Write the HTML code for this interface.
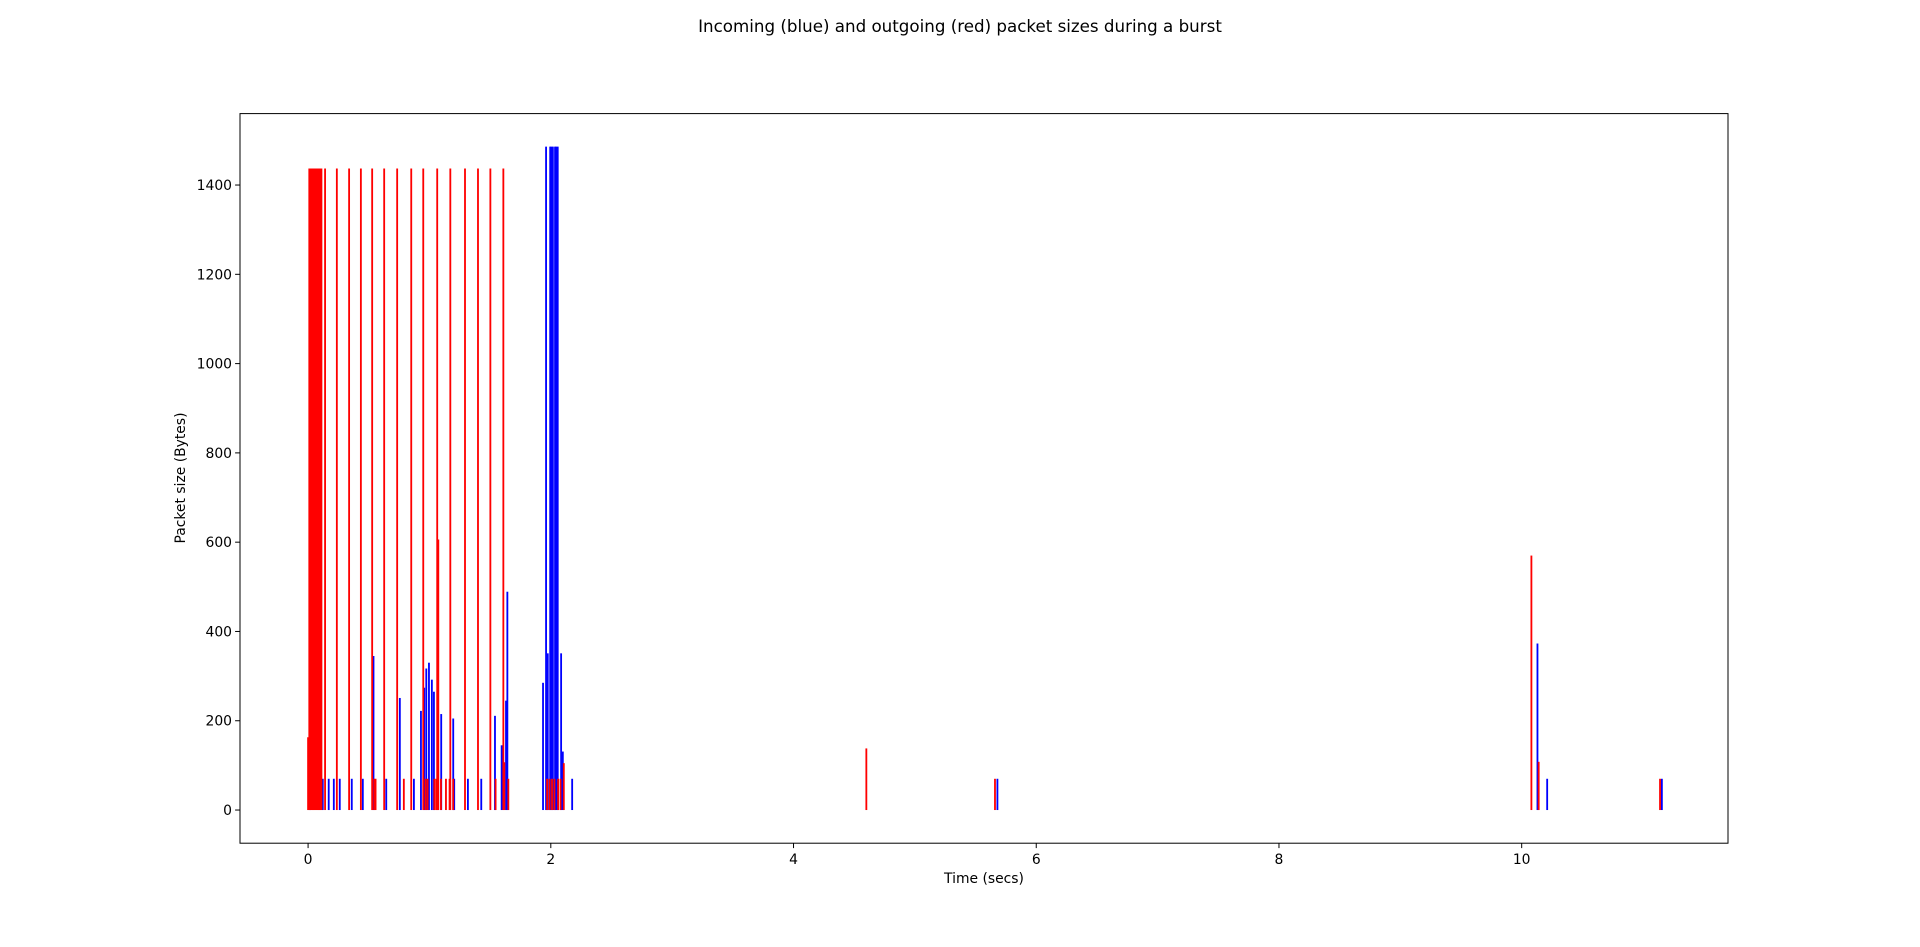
<!DOCTYPE html>
<html><head><meta charset="utf-8"><style>
html,body{margin:0;padding:0;background:#fff;}
svg{display:block;font-family:"DejaVu Sans","Liberation Sans",sans-serif;}
</style></head><body>
<svg id="chart" width="1920" height="947" viewBox="0 0 1920 947" xmlns="http://www.w3.org/2000/svg">
<rect width="1920" height="947" fill="#fff"/>
<text x="960" y="32" text-anchor="middle" font-size="16.7">Incoming (blue) and outgoing (red) packet sizes during a burst</text>
<g id="bars"></g>
<rect x="240" y="113.6" width="1488" height="729.6" fill="none" stroke="#000" stroke-width="1"/>
<g id="xticks"></g>
<g id="yticks"></g>
<text x="984" y="883" text-anchor="middle" font-size="13.9">Time (secs)</text>
<text x="185" y="478" text-anchor="middle" font-size="13.9" transform="rotate(-90 185 478)">Packet size (Bytes)</text>
</svg>
<script>
const outTimes = [0.0,0.01,0.02,0.03,0.04,0.05,0.06,0.07,0.08,0.09,0.10,0.11,0.14,0.237,0.338,0.435,0.528,0.627,0.734,0.85,0.949,1.064,1.172,1.293,1.40,1.502,1.609,
 0.545,0.556,0.789,0.968,0.985,1.040,1.056,1.073,1.095,1.136,1.166,1.196,1.545,1.617,1.650,
 1.97,1.99,2.01,2.03,2.06,2.08,2.107,4.60,5.66,10.08,10.14,11.14];
const outSizes = [163,1437,1437,1437,1437,1437,1437,1437,1437,1437,1437,1437,1437,1437,1437,1437,1437,1437,1437,1437,1437,1437,1437,1437,1437,1437,1437,
 70,70,70,70,70,70,70,606,70,70,70,70,70,107,70,
 70,70,70,70,70,70,105,138,70,570,108,70];
const inTimes = [0.0165,0.121,0.170,0.212,0.261,0.360,0.451,0.539,0.644,0.756,0.872,0.930,0.957,0.974,0.996,1.020,1.037,1.097,1.196,1.204,1.317,1.427,1.540,1.595,1.631,1.642,
 1.936,1.961,1.975,1.995,2.005,2.017,2.035,2.045,2.057,2.085,2.099,2.176,5.68,10.13,10.21,11.155];
const inSizes = [110,70,70,70,70,70,70,345,70,251,70,222,274,317,330,292,265,215,205,70,70,70,211,145,245,489,
 285,1486,351,1486,1486,1486,1486,1486,1486,351,131,70,70,373,70,70];
const xTicks = [0,2,4,6,8,10];
const yTicks = [0,200,400,600,800,1000,1200,1400];
const barWidth = 0.015;

const X0=240, X1=1728, Y0=843.2, Y1=113.6;
const xMin=-0.561, xMax=11.70, yMin=-74.3, yMax=1560;
const xs = v => X0 + (v - xMin) / (xMax - xMin) * (X1 - X0);
const ys = v => Y0 - (v - yMin) / (yMax - yMin) * (Y0 - Y1);
const NS = "http://www.w3.org/2000/svg";
const bars = document.getElementById('bars');
function drawBars(times, sizes, color, name){
  times.forEach((t,i)=>{
    const r = document.createElementNS(NS,'rect');
    const xl = xs(t - barWidth/2), xr = xs(t + barWidth/2);
    r.setAttribute('x', xl);
    r.setAttribute('width', Math.max(xr - xl, 1.8));
    r.setAttribute('y', ys(sizes[i]));
    r.setAttribute('height', ys(0) - ys(sizes[i]));
    r.setAttribute('fill', color);
    
    
    bars.appendChild(r);
  });
}
drawBars(inTimes, inSizes, '#0000ff', 'incoming-packet-bar');
drawBars(outTimes, outSizes, '#ff0000', 'outgoing-packet-bar');
const xg = document.getElementById('xticks');
xTicks.forEach(v=>{
  const x = xs(v);
  const l = document.createElementNS(NS,'line');
  l.setAttribute('x1',x);l.setAttribute('x2',x);l.setAttribute('y1',Y0);l.setAttribute('y2',Y0+4.9);
  l.setAttribute('stroke','#000');
  
  
  xg.appendChild(l);
  const t = document.createElementNS(NS,'text');
  t.setAttribute('x',x);t.setAttribute('y',Y0+21);t.setAttribute('text-anchor','middle');t.setAttribute('font-size','13.9');
  t.textContent = v;
  
  
  xg.appendChild(t);
});
const yg = document.getElementById('yticks');
yTicks.forEach(v=>{
  const y = ys(v);
  const l = document.createElementNS(NS,'line');
  l.setAttribute('x1',X0-4.9);l.setAttribute('x2',X0);l.setAttribute('y1',y);l.setAttribute('y2',y);
  l.setAttribute('stroke','#000');
  
  
  yg.appendChild(l);
  const t = document.createElementNS(NS,'text');
  t.setAttribute('x',X0-8);t.setAttribute('y',y+5);t.setAttribute('text-anchor','end');t.setAttribute('font-size','13.9');
  t.textContent = v;
  
  
  yg.appendChild(t);
});
</script>
</body></html>
